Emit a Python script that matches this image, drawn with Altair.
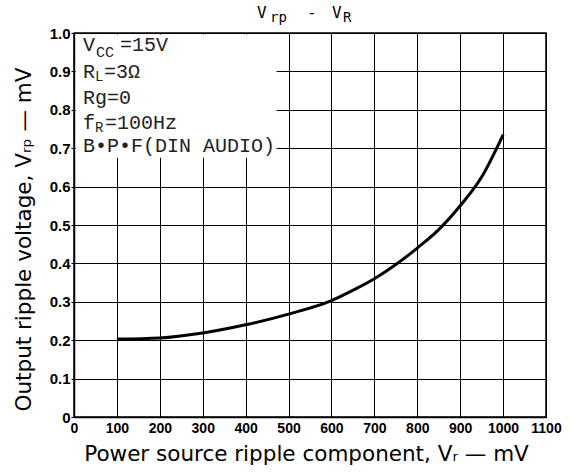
import altair as alt
import pandas as pd

# Curve data
vr_mv = [100, 200, 300, 400, 500, 600, 650, 700, 750, 800, 850, 900, 950, 1000]
vrp_mv = [0.203, 0.206, 0.219, 0.240, 0.268, 0.303, 0.330, 0.360, 0.397, 0.440, 0.488, 0.550, 0.625, 0.735]

x_ticks = list(range(0, 1101, 100))
y_ticks = [round(i * 0.1, 1) for i in range(0, 11)]

# Annotation segments (text, plot-pixel x, plot-pixel y, font size)
ann_text = ["V", "CC", "=15V", "R", "L", "=3Ω", "Rg=0", "f", "R", "=100Hz", "B•P•F(DIN AUDIO)"]
ann_px = [9, 22, 46, 9, 21, 30, 9, 9, 21, 31, 9]
ann_py = [12, 19, 12, 39, 44, 39, 65, 90, 95, 90, 113]
ann_size = [20, 15, 20, 20, 14, 20, 20, 20, 14, 20, 20]

# Chart title segments
tit_text = ["V", "rp", "-", "V", "R"]
tit_px = [183, 196, 233, 258, 269]
tit_py = [-20, -15, -20, -20, -15]
tit_size = [16, 14, 16, 16, 14]

W, H = 472, 384

curve = pd.DataFrame({"x": vr_mv, "y": vrp_mv})
ann = pd.DataFrame({"t": ann_text, "px": ann_px, "py": ann_py, "s": ann_size})
tit = pd.DataFrame({"t": tit_text, "px": tit_px, "py": tit_py, "s": tit_size})

xscale = alt.Scale(domain=[0, 1100], nice=False)
yscale = alt.Scale(domain=[0, 1.0], nice=False)

xaxis = alt.Axis(values=x_ticks, title="Power source ripple component, Vᵣ — mV", format="d",
                 labelFont="Liberation Sans", labelFontWeight="bold", labelFontSize=14,
                 labelColor="black", labelPadding=4, tickSize=0, labelOverlap=False,
                 labelFlush=False, labelBound=False,
                 titleFont="DejaVu Sans", titleFontWeight="normal", titleFontSize=21.5,
                 titleColor="black", titlePadding=8, titleX=232,
                 grid=True, gridColor="black", gridWidth=1, gridOpacity=1,
                 domainColor="black", domainWidth=1.5)
yaxis = alt.Axis(values=y_ticks, title="Output ripple voltage, Vᵣₚ — mV",
                 labelExpr="datum.value == 0 ? '0' : format(datum.value, '.1f')",
                 labelFont="Liberation Sans", labelFontWeight="bold", labelFontSize=15,
                 labelColor="black", labelPadding=1, tickSize=3, tickColor="black",
                 labelOverlap=False, labelFlush=False, labelBound=False,
                 titleFont="DejaVu Sans", titleFontWeight="normal", titleFontSize=21.5,
                 titleColor="black", titlePadding=14, titleY=206,
                 grid=True, gridColor="black", gridWidth=1, gridOpacity=1,
                 domainColor="black", domainWidth=1.5)

line = alt.Chart(curve).mark_line(color="black", strokeWidth=3, interpolate="monotone").encode(
    x=alt.X("x:Q", scale=xscale, axis=xaxis),
    y=alt.Y("y:Q", scale=yscale, axis=yaxis),
)

box = alt.Chart(pd.DataFrame({"x": [4], "x2": [472], "y": [0.675], "y2": [0.996]})).mark_rect(
    color="white").encode(
    x=alt.X("x:Q", scale=xscale, axis=xaxis), x2="x2:Q",
    y=alt.Y("y:Q", scale=yscale, axis=yaxis), y2="y2:Q")

ann_layer = alt.Chart(ann).mark_text(
    align="left", baseline="middle", font="Liberation Mono", color="#222").encode(
    x=alt.X("px:Q", scale=None), y=alt.Y("py:Q", scale=None),
    text="t:N", size=alt.Size("s:Q", scale=None, legend=None))

tit_layer = alt.Chart(tit).mark_text(
    align="left", baseline="middle", font="DejaVu Sans Mono", color="black").encode(
    x=alt.X("px:Q", scale=None), y=alt.Y("py:Q", scale=None),
    text="t:N", size=alt.Size("s:Q", scale=None, legend=None))

chart = alt.layer(box, line, ann_layer, tit_layer).properties(
    width=W, height=H,
    autosize=alt.AutoSizeParams(type="none"),
    padding={"left": 74, "top": 33, "right": 25, "bottom": 56},
    background="white",
).configure_view(stroke="black", strokeWidth=1.5)

chart.save("out.html", embed_options={"renderer": "svg", "actions": False})
